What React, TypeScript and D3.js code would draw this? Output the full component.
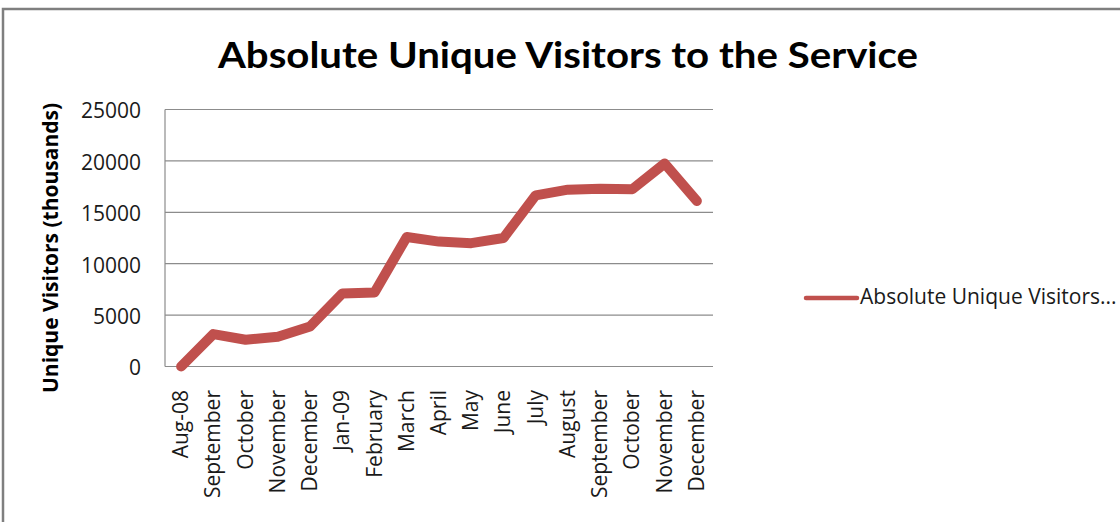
import React from "react";
import * as d3 from "d3";

const categories = [
  "Aug-08", "September", "October", "November", "December", "Jan-09",
  "February", "March", "April", "May", "June", "July", "August",
  "September", "October", "November", "December",
];
const visitors = [
  0, 3150, 2600, 2900, 3900, 7100, 7200, 12600, 12150, 12000, 12500,
  16650, 17200, 17300, 17250, 19750, 16100,
];
const yTicks = [0, 5000, 10000, 15000, 20000, 25000];
const title = "Absolute Unique Visitors to the Service";
const yTitle = "Unique Visitors (thousands)";
const seriesName = "Absolute Unique Visitors...";

const W = 1120;
const H = 522;
const plot = { left: 165, right: 713, top: 109.5, bottom: 366.5 };
const lineColor = "#c0504d";
const gridColor = "#8c8c8c";
const tickFont = "'Open Sans', sans-serif";

export default function App() {
  const x = d3
    .scalePoint<number>()
    .domain(categories.map((_, i) => i))
    .range([plot.left, plot.right])
    .padding(0.5);
  const y = d3.scaleLinear().domain([0, 25000]).range([plot.bottom, plot.top]);
  const line = d3
    .line<number>()
    .x((_, i) => x(i) as number)
    .y((d) => y(d));

  return (
    <svg
      width={W}
      height={H}
      style={{ position: "absolute", left: 0, top: 0, background: "#fff" }}
    >
      <rect x={0} y={0} width={W} height={H} fill="#fff" />
      <rect
        x={3}
        y={9}
        width={W + 50}
        height={H + 50}
        fill="none"
        stroke="#7f7f7f"
        strokeWidth={2.5}
      />
      <text
        x={218}
        y={68}
        textLength={700}
        lengthAdjust="spacingAndGlyphs"
        fontFamily="Lato, sans-serif"
        fontWeight="bold"
        fontSize={37}
        fill="#000"
      >
        {title}
      </text>
      {yTicks.map((t) => (
        <g key={t}>
          <line
            x1={plot.left}
            x2={plot.right}
            y1={y(t)}
            y2={y(t)}
            stroke={gridColor}
            strokeWidth={1.2}
          />
          <text
            x={141}
            y={y(t)}
            dy="0.42em"
            textAnchor="end"
            fontFamily={tickFont}
            fontSize={21}
            fill="#1a1a1a"
          >
            {t}
          </text>
        </g>
      ))}
      <line
        x1={plot.left}
        x2={plot.left}
        y1={plot.top}
        y2={plot.bottom}
        stroke={gridColor}
        strokeWidth={1.2}
      />
      <text
        transform={`translate(58, 248) rotate(-90)`}
        textAnchor="middle"
        fontFamily={tickFont}
        fontWeight="bold"
        fontSize={21}
        fill="#000"
      >
        {yTitle}
      </text>
      {categories.map((c, i) => (
        <text
          key={i}
          transform={`translate(${(x(i) as number) + 7}, 390) rotate(-90)`}
          textAnchor="end"
          fontFamily={tickFont}
          fontSize={21}
          fill="#1a1a1a"
        >
          {c}
        </text>
      ))}
      <path
        d={line(visitors) || ""}
        fill="none"
        stroke={lineColor}
        strokeWidth={10}
        strokeLinejoin="round"
        strokeLinecap="round"
      />
      <line
        x1={806}
        x2={857}
        y1={298}
        y2={298}
        stroke={lineColor}
        strokeWidth={4.5}
        strokeLinecap="round"
      />
      <text
        x={860}
        y={304}
        fontFamily={tickFont}
        fontSize={21}
        fill="#1a1a1a"
      >
        {seriesName}
      </text>
    </svg>
  );
}
